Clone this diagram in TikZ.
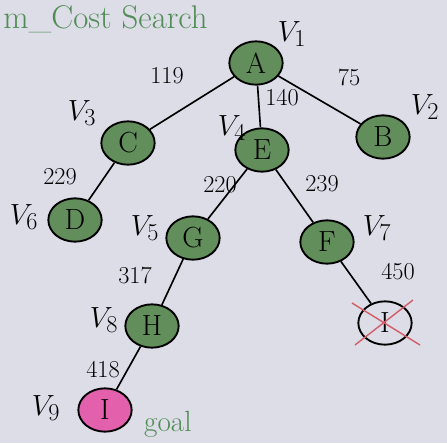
\documentclass[tikz,border=0pt]{standalone}
\usepackage{amsmath}
\usepackage{tikz}
\usetikzlibrary{shapes.geometric}

\definecolor{paper}{RGB}{220,221,231}
\definecolor{leaf}{RGB}{98,142,92}
\definecolor{goalpink}{RGB}{226,96,172}
\definecolor{inkgreen}{RGB}{80,140,85}
\definecolor{crossred}{RGB}{212,92,104}

\tikzset{
  vert/.style={ellipse,draw=black,line width=1.6pt,fill=leaf,minimum width=1.6cm,minimum height=1.3cm,inner sep=0pt,font=\Huge},
  wt/.style={font=\huge},
  vlab/.style={font=\Huge}
}

\begin{document}
\begin{tikzpicture}[x=0.03cm,y=-0.03cm]
  \fill[paper] (0,0) rectangle (447,443);
  \useasboundingbox (0,0) rectangle (447,443);
  % title
  \node[anchor=base west,text=inkgreen,font=\fontsize{28}{30}\selectfont,inner sep=1pt] (title) at (2,28) {m\_Cost Search};
  % vertices
  \foreach \n/\x/\y in {A/256/63,C/128/143,E/262/150,B/383/137,D/75/220,G/193/238,F/327/242,H/152/326}{
    \node[vert] (\n) at (\x,\y) {\n};}
  \node[vert,fill=none] (Ix) at (385,323) {I};
  \node[vert,fill=goalpink] (I) at (105,410) {I};
  % edges
  \foreach \a/\b in {A/C,A/E,A/B,C/D,E/G,E/F,G/H,F/Ix,H/I}{\draw[line width=1.4pt] (\a) -- (\b);}
  % costs
  \foreach \t/\x/\y in {119/167/76,140/282/98,75/349/77,229/60/177,220/220/185,239/322/184,317/135/275,450/398/272,418/103/370}{
    \node[wt] (w\t) at (\x,\y) {\t};}
  % visit order
  \foreach \k/\x/\y in {1/292/34,2/425/107,3/82/113,4/232/128,5/145/228,6/24/217,7/377/228,8/104/320,9/46/408}{
    \node[vlab] (v\k) at (\x,\y) {$V_{\k}$};}
  % crossed out
  \draw[crossred,line width=1.2pt] (352,303) -- (420,345);
  \draw[crossred,line width=1.2pt] (413,300) -- (355,345);
  \node[text=inkgreen,font=\Huge,anchor=west] (goal) at (140,424) {goal};
\end{tikzpicture}
\end{document}
